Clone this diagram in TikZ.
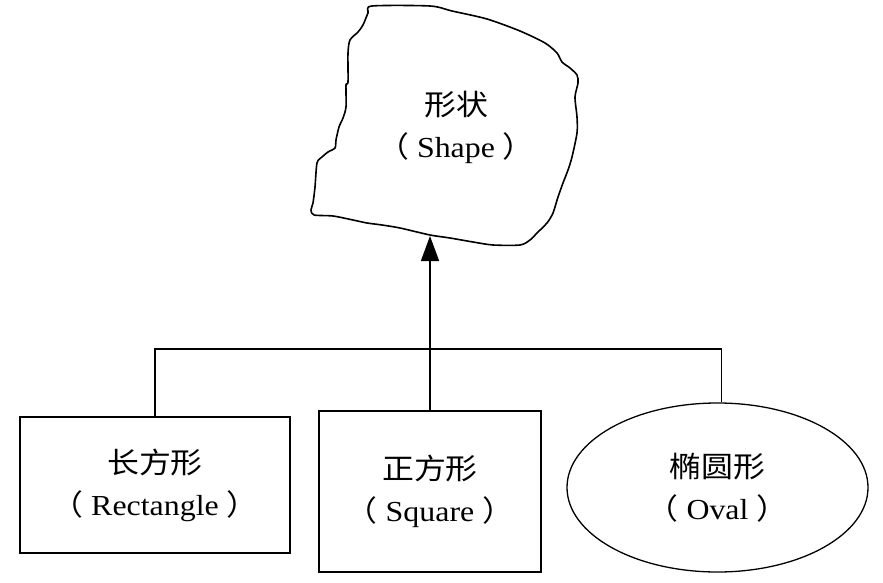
\documentclass[tikz,border=0pt]{standalone}
\usepackage{fontspec}
\setmainfont[FakeStretch=1.1]{Liberation Serif}
\newfontfamily\cjk[FakeStretch=1.1]{Noto Sans CJK SC}
\usetikzlibrary{shapes.geometric,arrows.meta}
\newcommand\twoline[2]{{\cjk #1}\\{\cjk （} #2 {\cjk ）}}
\tikzset{
  lbl/.style={align=center,font=\fontsize{29}{42}\selectfont,inner sep=0pt},
  boxnode/.style={lbl,draw,line width=1.6pt,rectangle},
  ovalnode/.style={lbl,draw,line width=1.3pt,ellipse},
  conn/.style={line width=1.6pt},
  blob/.style={line width=1.6pt,line join=round}
}
\begin{document}
\begin{tikzpicture}[x=1pt,y=-1pt]
\useasboundingbox (0,0) rectangle (883,583);
% irregular shape
\draw[blob] plot[smooth cycle,tension=0.45] coordinates {
 (372,6) (430,6) (452,11) (487,19) (520,31) (545,43) (557,53) (562,62) (570,68)
 (577,75) (578,83) (575,97) (577,117) (577,133) (572,157) (568,170) (563,183)
 (558,197) (553,213) (547,223) (537,233) (530,240) (520,245) (493,245) (473,242)
 (450,238) (430,235) (400,228) (382,225) (367,223) (353,220) (333,216) (314,215)
 (311,210) (313,203) (315,187) (317,163) (322,157) (328,152) (335,148) (336,140)
 (339,127) (343,118) (346,107) (346,85) (348,82) (348,53) (350,40) (358,32)
 (363,25) (368,13)};
\node[lbl] (shape) at (456,127) {\twoline{形状}{Shape}};
\coordinate (shapebot) at (430,236);
% children
\node[boxnode,minimum width=270pt,minimum height=136pt] (rect) at (155,485) {\twoline{长方形}{Rectangle}};
\node[boxnode,minimum width=222pt,minimum height=161pt] (square) at (430,491.5) {\twoline{正方形}{Square}};
\node[ovalnode,minimum width=301pt,minimum height=169pt] (oval) at (717.5,487.5) {\twoline{椭圆形}{Oval}};
% connectors
\coordinate (hbar) at (0,349);
\coordinate (ovtop) at ([xshift=4pt]oval.north);
\draw[conn] (rect.north) -- (rect.north |- hbar) -- (ovtop |- hbar) -- (ovtop);
\draw[conn,-{Triangle[length=25pt,width=18pt]}] (square.north) -- (shapebot);
\end{tikzpicture}
\end{document}
